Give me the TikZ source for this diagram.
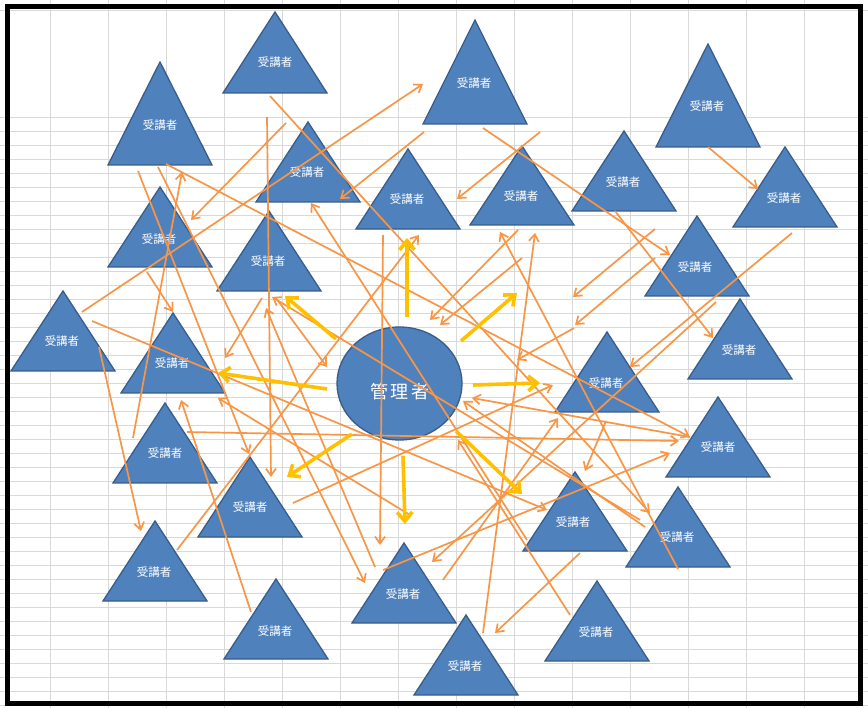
\documentclass[tikz,border=0pt]{standalone}
\usepackage{fontspec}
\newfontfamily\cjk{Noto Sans CJK JP}
\usetikzlibrary{arrows.meta, shapes.geometric}
\definecolor{shapeblue}{HTML}{4F81BD}
\definecolor{shapeedge}{HTML}{385D8A}
\definecolor{linkorange}{HTML}{F79646}
\definecolor{adminyellow}{HTML}{FFC000}
\definecolor{cellgray}{HTML}{D9D9D9}
\tikzset{
  cell/.style={cellgray, line width=0.9pt},
  learner/.style={fill=shapeblue, draw=shapeedge, line width=1.3pt},
  who/.style={text=white, inner sep=0pt, font=\cjk\fontsize{11.5}{13}\selectfont},
  admin/.style={ellipse, fill=shapeblue, draw=shapeedge, line width=1.3pt, minimum width=125pt, minimum height=113pt, inner sep=0pt},
  adminname/.style={text=white, inner sep=0pt, font=\cjk\fontsize{18}{20}\selectfont},
  link/.style={linkorange, line width=1.7pt, -{Straight Barb[length=7pt,width=10pt]}},
  order/.style={adminyellow, line width=3.6pt, -{Straight Barb[length=9pt,width=15pt]}}
}

\begin{document}
\begin{tikzpicture}[x=1pt, y=-1pt]
    \useasboundingbox (0,0) rectangle (868,708);
    \fill[white] (0,0) rectangle (868,708);
    % sheet cells
    \foreach \gx in {50.5,108.5,...,805}
        \draw[cell] (\gx,0) -- (\gx,708);
    \foreach \gy in {117,131,...,705}
        \draw[cell] (0,\gy) -- (868,\gy);
    \draw[cell] (0,10) -- (868,10);

    % learners
    \draw[learner] (275,12) -- ++(-52,81) -- ++(104,0) -- cycle node[who] (t1) at (275,62) {受講者};
    \draw[learner] (160,62) -- ++(-52,103) -- ++(104,0) -- cycle node[who] (t2) at (160,125) {受講者};
    \draw[learner] (475,20) -- ++(-52,104) -- ++(104,0) -- cycle node[who] (t3) at (474,83) {受講者};
    \draw[learner] (708,44) -- ++(-52,103) -- ++(104,0) -- cycle node[who] (t4) at (707,106) {受講者};
    \draw[learner] (308,122) -- ++(-52,80) -- ++(104,0) -- cycle node[who] (t5) at (307,172) {受講者};
    \draw[learner] (408,149) -- ++(-52,80) -- ++(104,0) -- cycle node[who] (t6) at (407,199) {受講者};
    \draw[learner] (522,146) -- ++(-52,79) -- ++(104,0) -- cycle node[who] (t7) at (521,196) {受講者};
    \draw[learner] (624,131) -- ++(-52,80) -- ++(104,0) -- cycle node[who] (t8) at (623,182) {受講者};
    \draw[learner] (785,147) -- ++(-52,80) -- ++(104,0) -- cycle node[who] (t9) at (784,198) {受講者};
    \draw[learner] (160,187) -- ++(-52,80) -- ++(104,0) -- cycle node[who] (t10) at (159,239) {受講者};
    \draw[learner] (269,211) -- ++(-52,80) -- ++(104,0) -- cycle node[who] (t11) at (268,261) {受講者};
    \draw[learner] (697,216) -- ++(-52,80) -- ++(104,0) -- cycle node[who] (t12) at (695,267) {受講者};
    \draw[learner] (63,291) -- ++(-52,80) -- ++(104,0) -- cycle node[who] (t13) at (62,341) {受講者};
    \draw[learner] (173,313) -- ++(-52,80) -- ++(104,0) -- cycle node[who] (t14) at (172,363) {受講者};
    \draw[learner] (740,299) -- ++(-52,80) -- ++(104,0) -- cycle node[who] (t15) at (739,350) {受講者};
    \draw[learner] (607,332) -- ++(-52,80) -- ++(104,0) -- cycle node[who] (t16) at (606,383) {受講者};
    \draw[learner] (165,403) -- ++(-52,80) -- ++(104,0) -- cycle node[who] (t17) at (165,453) {受講者};
    \draw[learner] (718,397) -- ++(-52,80) -- ++(104,0) -- cycle node[who] (t18) at (718,447) {受講者};
    \draw[learner] (250,457) -- ++(-52,80) -- ++(104,0) -- cycle node[who] (t19) at (250,507) {受講者};
    \draw[learner] (575,472) -- ++(-52,79) -- ++(104,0) -- cycle node[who] (t20) at (573,522) {受講者};
    \draw[learner] (678,487) -- ++(-52,80) -- ++(104,0) -- cycle node[who] (t21) at (677,537) {受講者};
    \draw[learner] (155,521) -- ++(-52,80) -- ++(104,0) -- cycle node[who] (t22) at (154,572) {受講者};
    \draw[learner] (404,543) -- ++(-52,80) -- ++(104,0) -- cycle node[who] (t23) at (403,594) {受講者};
    \draw[learner] (276,579) -- ++(-52,80) -- ++(104,0) -- cycle node[who] (t24) at (275,631) {受講者};
    \draw[learner] (597,581) -- ++(-52,80) -- ++(104,0) -- cycle node[who] (t25) at (596,632) {受講者};
    \draw[learner] (466,615) -- ++(-52,80) -- ++(104,0) -- cycle node[who] (t26) at (465,666) {受講者};

    % administrator
    \node[admin] (mgr) at (399.5,383.5) {};
    \node[adminname] (mgrname) at (400,392) {管\hspace{2.5pt}理\hspace{2.5pt}者};

    % links between learners
    \draw[link] (82,312) -- (423,84);
    \draw[link] (92,321) -- (547,510);
    \draw[link] (99,347) -- (141,531);
    \draw[link] (147,272) -- (173,312);
    \draw[link] (133,438) -- (182,172);
    \draw[link] (138,171) -- (249,454);
    \draw[link] (158,167) -- (365,583);
    \draw[link] (166,164) -- (690,437);
    \draw[link] (286,123) -- (191,220);
    \draw[link] (270,96) -- (650,513);
    \draw[link] (267,117) -- (271,477);
    \draw[link] (424,132) -- (340,199);
    \draw[link] (540,132) -- (457,199);
    \draw[link] (483,128) -- (670,255);
    \draw[link] (708,147) -- (758,189);
    \draw[link] (615,211) -- (713,338);
    \draw[link] (655,229) -- (573,297);
    \draw[link] (655,258) -- (575,325);
    \draw[link] (792,233) -- (630,367);
    \draw[link] (716,302) -- (432,562);
    \draw[link] (383,235) -- (380,545);
    \draw[link] (177,550) -- (419,235);
    \draw[link] (483,633) -- (535,233);
    \draw[link] (678,569) -- (500,232);
    \draw[link] (645,527) -- (463,401);
    \draw[link] (690,437) -- (472,398);
    \draw[link] (187,432) -- (679,441);
    \draw[link] (383,570) -- (670,453);
    \draw[link] (262,298) -- (225,358);
    \draw[link] (522,258) -- (440,325);
    \draw[link] (518,230) -- (430,320);
    \draw[link] (574,328) -- (517,360);
    \draw[link] (293,503) -- (553,385);
    \draw[link] (606,421) -- (585,471);
    \draw[link] (580,553) -- (495,633);
    \draw[link] (570,615) -- (458,440);
    \draw[link] (375,567) -- (266,308);
    \draw[link] (640,520) -- (272,297);
    \draw[link] (251,612) -- (181,400);
    \draw[link] (410,515) -- (218,398);
    \draw[link] (276,298) -- (327,367);
    \draw[link] (527,540) -- (311,203);
    \draw[link] (443,580) -- (558,418);

    % administrator to learners
    \draw[order] (407,317) -- (407,238);
    \draw[order] (461,341) -- (517,293);
    \draw[order] (473,385) -- (540,383);
    \draw[order] (327,389) -- (218,373);
    \draw[order] (352,434) -- (287,477);
    \draw[order] (403,456) -- (405,524);
    \draw[order] (456,431) -- (522,494);
    \draw[order] (336,339) -- (285,296);

    % frame
    \draw[line width=5.5pt] (7.5,6.7) rectangle (860.7,703.7);
\end{tikzpicture}
\end{document}
